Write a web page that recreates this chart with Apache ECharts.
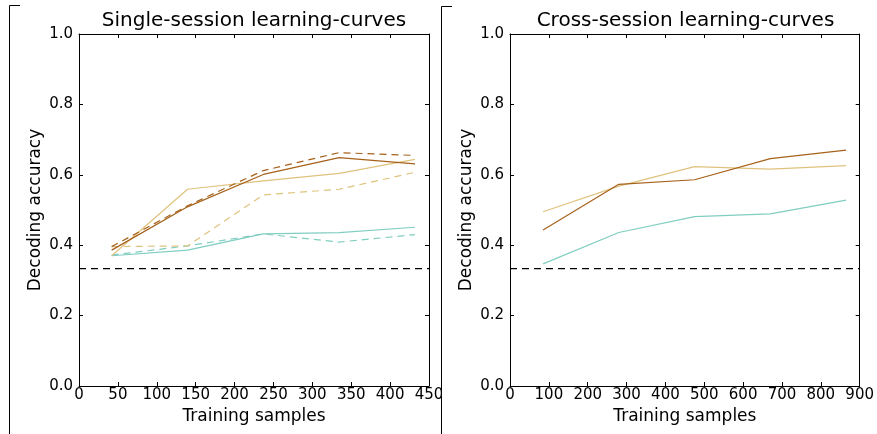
<!DOCTYPE html>
<html>
<head>
<meta charset="utf-8">
<script src="https://cdn.jsdelivr.net/npm/echarts@6/dist/echarts.min.js"></script>
<style>
  html, body { margin: 0; padding: 0; background: #fff; }
  #chart { width: 877px; height: 434px; }
</style>
</head>
<body>
<div id="chart"></div>
<script>
// training sample counts
var singleX = [42, 139.5, 237, 334.5, 432];
var crossX = [85, 280, 475, 670, 865];

// single-session curves (solid / dashed)
var brownSolid = [0.386, 0.509, 0.601, 0.649, 0.631];
var brownDashed = [0.396, 0.512, 0.612, 0.663, 0.655];
var tanSolid = [0.370, 0.559, 0.583, 0.604, 0.644];
var tanDashed = [0.396, 0.398, 0.543, 0.559, 0.607];
var tealSolid = [0.370, 0.386, 0.432, 0.436, 0.451];
var tealDashed = [0.372, 0.398, 0.432, 0.409, 0.430];

// cross-session curves
var brownCross = [0.443, 0.573, 0.586, 0.646, 0.670];
var tanCross = [0.495, 0.568, 0.623, 0.616, 0.626];
var tealCross = [0.347, 0.436, 0.481, 0.489, 0.528];

var chance = 1 / 3;
var singleRange = [0, 450];
var crossRange = [0, 900];

var BROWN = '#a6611a', TAN = '#dfc27d', TEAL = '#80cdc1';
var FONT = 'DejaVu Sans';
var DASH = [7, 5];

function pairs(xs, ys) {
  return xs.map(function (x, i) { return [x, ys[i]]; });
}

function xAx(grid, max, step, pos) {
  var main = pos === 'bottom';
  return {
    gridIndex: grid, type: 'value', min: 0, max: max, interval: step, position: pos,
    name: main ? 'Training samples' : '', nameLocation: 'middle', nameGap: 18,
    nameTextStyle: { color: '#000', fontSize: 17, fontFamily: FONT },
    axisLine: { onZero: false, lineStyle: { color: '#000', width: 1 } },
    axisTick: { inside: true, length: 4, lineStyle: { color: '#000' } },
    axisLabel: { show: main, color: '#000', fontSize: 15, fontFamily: FONT, margin: 2 },
    splitLine: { show: false }
  };
}

function yAx(grid, pos) {
  var main = pos === 'left';
  return {
    gridIndex: grid, type: 'value', min: 0, max: 1, interval: 0.2, position: pos,
    name: main ? 'Decoding accuracy' : '', nameLocation: 'middle', nameGap: 35,
    nameTextStyle: { color: '#000', fontSize: 17, fontFamily: FONT },
    axisLine: { onZero: false, lineStyle: { color: '#000', width: 1 } },
    axisTick: { inside: true, length: 4, lineStyle: { color: '#000' } },
    axisLabel: { show: main, color: '#000', fontSize: 15, fontFamily: FONT, margin: 6,
      formatter: function (v) { return v.toFixed(1); } },
    splitLine: { show: false }
  };
}

function line(ax, data, color, dashed, width) {
  return {
    type: 'line', xAxisIndex: ax, yAxisIndex: ax, data: data,
    showSymbol: false, silent: true,
    lineStyle: { color: color, width: width || 1.2, type: dashed ? DASH : 'solid' }
  };
}

var chart = echarts.init(document.getElementById('chart'));
chart.setOption({
  animation: false,
  backgroundColor: '#fff',
  grid: [
    { left: 79, top: 34, width: 350, height: 352 },
    { left: 510, top: 34, width: 351, height: 352 }
  ],
  xAxis: [
    xAx(0, 450, 50, 'bottom'), xAx(0, 450, 50, 'top'),
    xAx(1, 900, 100, 'bottom'), xAx(1, 900, 100, 'top')
  ],
  yAxis: [
    yAx(0, 'left'), yAx(0, 'right'),
    yAx(1, 'left'), yAx(1, 'right')
  ],
  series: [
    line(0, pairs(singleRange, [chance, chance]), '#000', true, 1.2),
    line(0, pairs(singleX, tealDashed), TEAL, true),
    line(0, pairs(singleX, tealSolid), TEAL, false),
    line(0, pairs(singleX, tanDashed), TAN, true),
    line(0, pairs(singleX, tanSolid), TAN, false),
    line(0, pairs(singleX, brownDashed), BROWN, true),
    line(0, pairs(singleX, brownSolid), BROWN, false),
    line(2, pairs(crossRange, [chance, chance]), '#000', true, 1.2),
    line(2, pairs(crossX, tealCross), TEAL, false),
    line(2, pairs(crossX, tanCross), TAN, false),
    line(2, pairs(crossX, brownCross), BROWN, false)
  ],
  graphic: [
    { type: 'text', z: 50, style: { text: 'Single-session learning-curves', x: 254, y: 21,
      textAlign: 'center', textVerticalAlign: 'middle', font: '20px "DejaVu Sans"', fill: '#000' } },
    { type: 'text', z: 50, style: { text: 'Cross-session learning-curves', x: 685.5, y: 21,
      textAlign: 'center', textVerticalAlign: 'middle', font: '20px "DejaVu Sans"', fill: '#000' } },
    { type: 'rect', z: 60, shape: { x: 442, y: 387, width: 10, height: 20 }, style: { fill: '#fff' } },
    { type: 'polyline', z: 70, shape: { points: [[20, 5.5], [9.5, 5.5], [9.5, 434]] },
      style: { stroke: '#000', lineWidth: 1, fill: null } },
    { type: 'polyline', z: 70, shape: { points: [[452, 6.5], [441.5, 6.5], [441.5, 434]] },
      style: { stroke: '#000', lineWidth: 1, fill: null } }
  ]
});
</script>
</body>
</html>
